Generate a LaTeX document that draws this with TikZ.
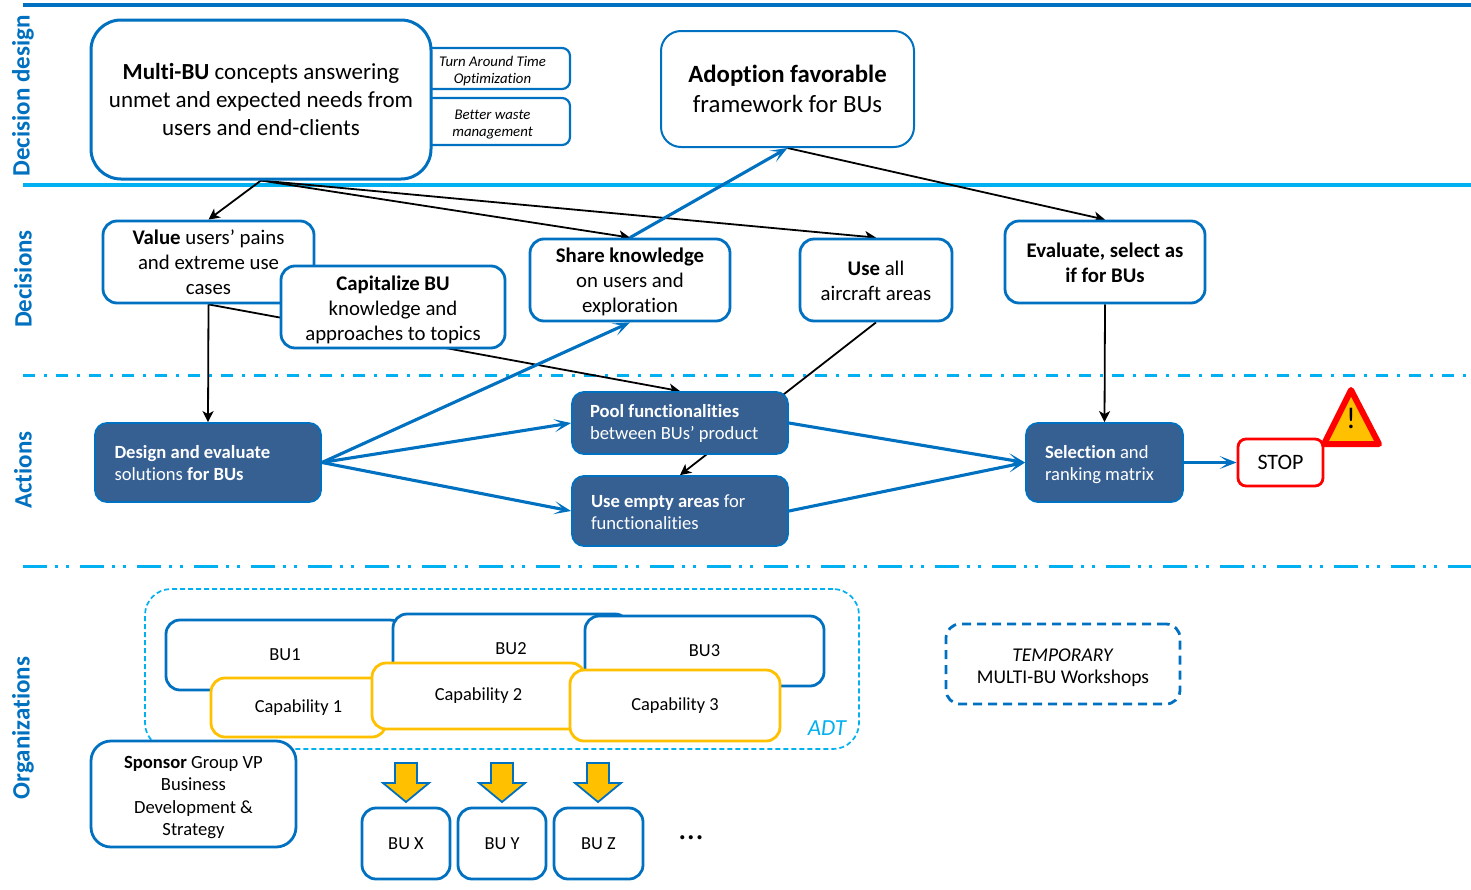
\documentclass[tikz,border=0pt]{standalone}
\usepackage{fontspec}
\setmainfont{Carlito}[Ligatures=NoCommon]
\usetikzlibrary{arrows.meta,backgrounds}
\definecolor{bluedark}{HTML}{0070C0}
\definecolor{bluelight}{HTML}{00B0F0}
\definecolor{navyfill}{HTML}{376092}
\definecolor{amber}{HTML}{FFC000}
\newcommand{\fs}[2]{\fontsize{#1}{#2}\selectfont}
\newcommand{\lowr}[1]{\rule{0pt}{#1em}}
% \bx{name}{style}{x1}{y1}{x2}{y2}{text}
\newcommand{\bx}[7]{%
  \pgfmathsetmacro{\bxx}{(#3+#5)/2}\pgfmathsetmacro{\bxy}{(#4+#6)/2}%
  \pgfmathsetmacro{\bxw}{#5-#3}\pgfmathsetmacro{\bxh}{#6-#4}%
  \node[#2,minimum width=\bxw pt,minimum height=\bxh pt] (#1) at (\bxx,\bxy) {#7};}
\tikzset{
  x=1pt,y=-1pt,
  lower text/.style={execute at begin node={\rule{0pt}{#1em}}},
  base/.style={draw=bluedark,fill=white,line width=2.8pt,align=center,inner sep=0pt,text=black},
  huge box/.style={base,rounded corners=30pt,line width=3pt,font=\fs{23}{27.6}},
  frame box/.style={base,rounded corners=20pt,line width=2pt,font=\fs{24.8}{30}},
  mid box/.style={base,rounded corners=14pt,font=\fs{20.8}{25}},
  tiny box/.style={base,rounded corners=8pt,line width=2.2pt,font=\fs{14.8}{17}\itshape},
  solid box/.style={draw=bluedark,fill=navyfill,line width=1.8pt,rounded corners=12pt,text=white,
    align=flush left,inner xsep=0pt,inner ysep=0pt,font=\fs{18.6}{22},lower text=.8},
  bu box/.style={base,rounded corners=14pt,font=\fs{18.4}{21}},
  cap box/.style={base,draw=amber,rounded corners=14pt,font=\fs{18.4}{21}},
  stop box/.style={base,draw=red,rounded corners=8pt,font=\fs{22}{24}},
  side label/.style={rotate=90,text=bluedark,font=\fs{25}{28}\bfseries},
  black arrow/.style={draw=black,line width=1.8pt,-{Stealth[length=11pt,width=11pt,inset=3pt]}},
  blue arrow/.style={draw=bluedark,line width=3.1pt,-{Stealth[length=17pt,width=13pt,inset=9pt]}},
  solid rule/.style={line width=3.2pt},
  block arrow/.style={draw=bluedark,fill=amber,line width=1.8pt,line join=miter},
}
\begin{document}
\begin{tikzpicture}
\useasboundingbox (0,0) rectangle (1471,889);

% small tags
\bx{tat}{tiny box}{415}{48}{570}{89}{\lowr{1}Turn Around Time\\Optimization}
\bx{waste}{tiny box}{415}{98}{570}{145}{\lowr{1}Better waste\\management}
\bx{multi}{huge box}{91}{20}{431}{179}{\textbf{Multi-BU} concepts answering\\unmet and expected needs from\\users and end-clients}
\bx{adopt}{frame box}{661}{31}{914}{147}{\textbf{Adoption favorable}\\framework for BUs}

\bx{value}{mid box}{103}{221}{314}{303}{\textbf{Value} users’ pains\\and extreme use\\cases}
\bx{capit}{mid box}{281}{266}{505}{348}{\lowr{1}\textbf{Capitalize BU}\\knowledge and\\approaches to topics}
\bx{share}{mid box}{530}{239}{730}{321}{\lowr{.92}\textbf{Share knowledge}\\on users and\\exploration}
\bx{useall}{mid box}{800}{239}{952}{321}{\lowr{.82}\textbf{Use} all\\aircraft areas}
\bx{evalu}{mid box}{1005}{221}{1205}{303}{\lowr{.82}\textbf{Evaluate, select as}\\\textbf{if for BUs}}

\bx{design}{solid box,text width=187pt}{95}{423}{321}{502}{\textbf{Design and evaluate}\\solutions \textbf{for BUs}}
\bx{pool}{solid box,text width=180pt}{572}{392}{788}{454}{\textbf{Pool functionalities}\\between BUs’ product}
\bx{empty}{solid box,text width=178pt}{572}{476}{788}{546}{\textbf{Use empty areas} for\\functionalities}
\bx{select}{solid box,text width=119pt,lower text=.9}{1026}{423}{1183}{502}{\textbf{Selection} and\\ranking matrix}
\bx{stop}{stop box}{1238}{439}{1323}{486}{STOP}

% warning sign
\draw[draw=red,fill=amber,line width=6pt,line join=round] (1351,390) -- (1324,444) -- (1379,444) -- cycle;
\node[inner sep=0pt,font=\fs{30}{32}] (warn) at (1351,418) {!};

% organisation
\bx{adt}{draw=bluelight,line width=1.7pt,dash pattern=on 5pt off 3pt,rounded corners=26pt}{145}{589}{859}{749}{}
\node[text=bluelight,inner sep=0pt,font=\fs{23}{24}\itshape] (adtl) at (827,728) {ADT};
\bx{bua}{bu box}{166}{620}{404}{690}{BU1}
\bx{bub}{bu box}{393}{614}{629}{684}{BU2}
\bx{buc}{bu box}{585}{616}{824}{686}{BU3}
\bx{capa}{cap box}{211}{678}{386}{737}{Capability 1}
\bx{capb}{cap box}{372}{663}{585}{729}{Capability 2}
\bx{capc}{cap box}{570}{670}{780}{741}{Capability 3}
\bx{spons}{bu box,rounded corners=20pt,font=\fs{18.6}{22.4}}{91}{741}{296}{847}{\lowr{1.05}\textbf{Sponsor} Group VP\\Business\\Development \&\\Strategy}
\bx{bux}{bu box}{362}{808}{450}{879}{BU X}
\bx{buy}{bu box}{458}{808}{546}{879}{BU Y}
\bx{buz}{bu box}{554}{808}{643}{879}{BU Z}
\node[inner sep=0pt,font=\fs{34}{36}] (dots) at (691,838) {...};
\bx{temp}{base,line width=2.8pt,dash pattern=on 9pt off 6pt,rounded corners=14pt,font=\fs{19.5}{22}}{946}{624}{1180}{704}{\lowr{1.03}\textit{TEMPORARY}\\MULTI-BU Workshops}

\foreach \c in {406,502,598}{
  \draw[block arrow] (\c-11,763) -- (\c+11,763) -- (\c+11,783) -- (\c+23,783) -- (\c,802) -- (\c-23,783) -- (\c-11,783) -- cycle;
}

% side labels
\node[side label] (l1) at (23,96) {Decision design};
\node[side label] (l2) at (23,279) {Decisions};
\node[side label] (l3) at (23,470) {Actions};
\node[side label] (l4) at (23,728) {Organizations};

\begin{scope}[on background layer]
  % rules
  \coordinate (r1a) at (23,5);   \coordinate (r1b) at (1471,5);
  \coordinate (r2a) at (23,185); \coordinate (r2b) at (1471,185);
  \coordinate (r3a) at (23,375); \coordinate (r3b) at (1467,375);
  \coordinate (r4a) at (23,566); \coordinate (r4b) at (1471,566);
  \draw[solid rule,bluedark] (r1a) -- (r1b);
  \draw[solid rule,bluelight] (r2a) -- (r2b);
  \draw[bluelight,line width=3pt,dash pattern=on 12pt off 9pt on 3pt off 9pt] (r3a) -- (r3b);
  \draw[bluelight,line width=3pt,dash pattern=on 24pt off 8pt on 3pt off 8pt on 3pt off 11pt] (r4a) -- (r4b);
  % black connectors
  \draw[black arrow] (multi.south) -- (value.north);
  \draw[black arrow] (multi.south) -- (share.north);
  \draw[black arrow] (multi.south) -- (useall.north);
  \draw[black arrow] (adopt.south) -- (evalu.north);
  \draw[black arrow] (value.south) -- (design.north);
  \draw[black arrow] (value.south) -- (pool.north);
  \draw[black arrow] (useall.south) -- (empty.north);
  \draw[black arrow] (evalu.south) -- (select.north);
  % blue connectors
  \draw[blue arrow] (design.east) -- (share.south);
  \draw[blue arrow] (share.north) -- (adopt.south);
  \draw[blue arrow] (design.east) -- (pool.west);
  \draw[blue arrow] (design.east) -- (empty.west);
  \draw[blue arrow] (pool.east) -- (select.west);
  \draw[blue arrow] (empty.east) -- (select.west);
  \draw[blue arrow] (select.east) -- (stop.west);
\end{scope}
\end{tikzpicture}
\end{document}
